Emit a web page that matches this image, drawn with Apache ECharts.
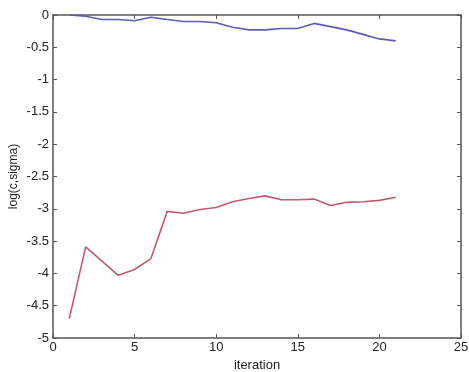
<!DOCTYPE html>
<html><head><meta charset="utf-8">
<script src="https://cdn.jsdelivr.net/npm/echarts@6/dist/echarts.min.js"></script>
<style>html,body{margin:0;padding:0;background:#fff}#c{width:469px;height:372px}</style>
</head><body><div id="c"></div>
<script>
const iterations = [1,2,3,4,5,6,7,8,9,10,11,12,13,14,15,16,17,18,19,20,21];
const blueValues = [0,-0.02,-0.07,-0.07,-0.09,-0.035,-0.07,-0.10,-0.10,-0.12,-0.19,-0.23,-0.23,-0.21,-0.21,-0.13,-0.18,-0.23,-0.30,-0.37,-0.40];
const redValues = [-4.70,-3.59,-3.81,-4.03,-3.94,-3.77,-3.04,-3.07,-3.01,-2.98,-2.89,-2.84,-2.80,-2.86,-2.86,-2.85,-2.95,-2.90,-2.89,-2.87,-2.82];
const xTicks = [0,5,10,15,20,25];
const yTicks = [0,-0.5,-1,-1.5,-2,-2.5,-3,-3.5,-4,-4.5,-5];

const axisColor = '#555';
const font = 'Liberation Sans, Arial, sans-serif';
const chart = echarts.init(document.getElementById('c'), null, {renderer:'canvas'});
const lbl = {color:'#222', fontFamily:font, fontSize:13};
chart.setOption({
  animation:false,
  grid:{left:53, right:8, top:15, bottom:34, containLabel:false, outerBoundsMode:'none'},
  xAxis:[{
    type:'value', min:0, max:25, interval:5, position:'bottom',
    name:'iteration', nameLocation:'middle', nameGap:21, nameMoveOverlap:false,
    nameTextStyle:{color:'#222', fontFamily:font, fontSize:13},
    axisLine:{onZero:false, lineStyle:{color:axisColor, width:1.5}},
    axisTick:{inside:true, length:4, lineStyle:{color:axisColor}},
    axisLabel:Object.assign({margin:3, formatter:v=>xTicks.includes(v)?String(v):''}, lbl),
    splitLine:{show:false}
  },{
    type:'value', min:0, max:25, interval:5, position:'top',
    axisLine:{onZero:false, lineStyle:{color:axisColor, width:1.5}},
    axisTick:{inside:true, length:4, lineStyle:{color:axisColor}},
    axisLabel:{show:false}, splitLine:{show:false}
  }],
  yAxis:[{
    type:'value', min:-5, max:0, interval:0.5, position:'left',
    name:'log(c,sigma)', nameLocation:'middle', nameGap:33, nameRotate:90, nameMoveOverlap:false,
    nameTextStyle:{color:'#222', fontFamily:font, fontSize:12},
    axisLine:{onZero:false, lineStyle:{color:axisColor, width:1.5}},
    axisTick:{inside:true, length:4, lineStyle:{color:axisColor}},
    axisLabel:Object.assign({margin:4, formatter:v=>{const t=yTicks.find(a=>Math.abs(a-v)<1e-9);return t===undefined?'':String(t);}}, lbl),
    splitLine:{show:false}
  },{
    type:'value', min:-5, max:0, interval:0.5, position:'right',
    axisLine:{onZero:false, lineStyle:{color:axisColor, width:1.5}},
    axisTick:{inside:true, length:4, lineStyle:{color:axisColor}},
    axisLabel:{show:false}, splitLine:{show:false}
  }],
  series:[{
    type:'line', xAxisIndex:0, yAxisIndex:0, showSymbol:false,
    data:iterations.map((x,i)=>[x, blueValues[i]]),
    lineStyle:{color:'#5c5cb4', width:1.6}, itemStyle:{color:'#5c5cb4'}
  },{
    type:'line', xAxisIndex:0, yAxisIndex:0, showSymbol:false,
    data:iterations.map((x,i)=>[x, redValues[i]]),
    lineStyle:{color:'#c25a6c', width:1.6}, itemStyle:{color:'#c25a6c'}
  }]
});
</script></body></html>
